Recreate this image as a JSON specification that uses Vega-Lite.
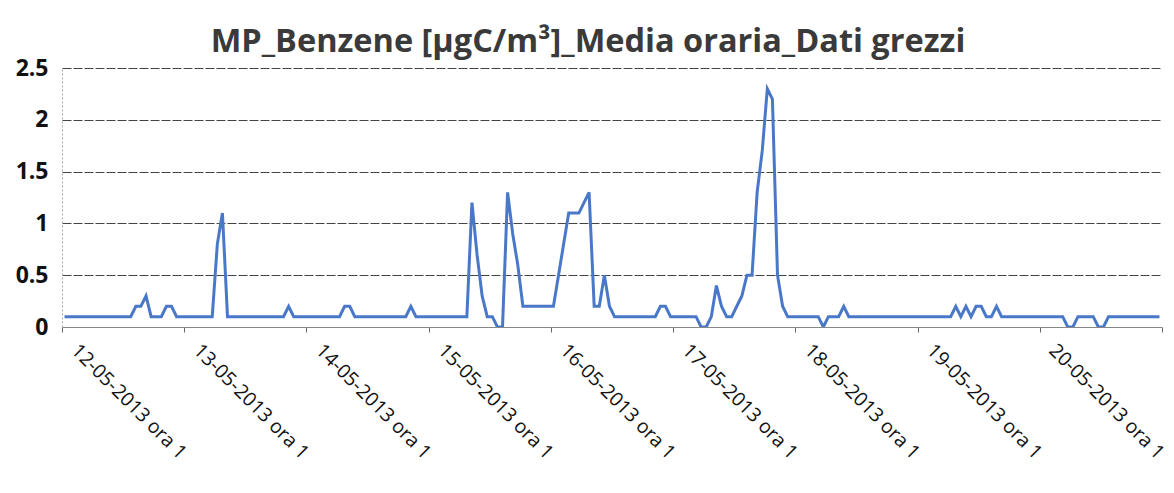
{
  "$schema": "https://vega.github.io/schema/vega-lite/v6.json",
  "width": 1100,
  "height": 259,
  "autosize": "none",
  "padding": {"left": 62, "top": 68, "right": 12, "bottom": 166},
  "background": "white",
  "title": {
    "text": "MP_Benzene [µgC/m³]_Media oraria_Dati grezzi",
    "font": "Open Sans",
    "fontSize": 32.5,
    "fontWeight": "bold",
    "color": "#3a3a3a",
    "anchor": "middle",
    "dx": -24,
    "offset": -1
  },
  "config": {
    "view": {"stroke": null},
    "font": "Open Sans"
  },
  "data": {
    "values": [
      {"h":0,"v":0.1},{"h":1,"v":0.1},{"h":2,"v":0.1},{"h":3,"v":0.1},{"h":4,"v":0.1},{"h":5,"v":0.1},{"h":6,"v":0.1},{"h":7,"v":0.1},{"h":8,"v":0.1},{"h":9,"v":0.1},{"h":10,"v":0.1},{"h":11,"v":0.1},{"h":12,"v":0.1},{"h":13,"v":0.1},{"h":14,"v":0.2},{"h":15,"v":0.2},{"h":16,"v":0.3},{"h":17,"v":0.1},{"h":18,"v":0.1},{"h":19,"v":0.1},{"h":20,"v":0.2},{"h":21,"v":0.2},{"h":22,"v":0.1},{"h":23,"v":0.1},
      {"h":24,"v":0.1},{"h":25,"v":0.1},{"h":26,"v":0.1},{"h":27,"v":0.1},{"h":28,"v":0.1},{"h":29,"v":0.1},{"h":30,"v":0.8},{"h":31,"v":1.1},{"h":32,"v":0.1},{"h":33,"v":0.1},{"h":34,"v":0.1},{"h":35,"v":0.1},{"h":36,"v":0.1},{"h":37,"v":0.1},{"h":38,"v":0.1},{"h":39,"v":0.1},{"h":40,"v":0.1},{"h":41,"v":0.1},{"h":42,"v":0.1},{"h":43,"v":0.1},{"h":44,"v":0.2},{"h":45,"v":0.1},{"h":46,"v":0.1},{"h":47,"v":0.1},
      {"h":48,"v":0.1},{"h":49,"v":0.1},{"h":50,"v":0.1},{"h":51,"v":0.1},{"h":52,"v":0.1},{"h":53,"v":0.1},{"h":54,"v":0.1},{"h":55,"v":0.2},{"h":56,"v":0.2},{"h":57,"v":0.1},{"h":58,"v":0.1},{"h":59,"v":0.1},{"h":60,"v":0.1},{"h":61,"v":0.1},{"h":62,"v":0.1},{"h":63,"v":0.1},{"h":64,"v":0.1},{"h":65,"v":0.1},{"h":66,"v":0.1},{"h":67,"v":0.1},{"h":68,"v":0.2},{"h":69,"v":0.1},{"h":70,"v":0.1},{"h":71,"v":0.1},
      {"h":72,"v":0.1},{"h":73,"v":0.1},{"h":74,"v":0.1},{"h":75,"v":0.1},{"h":76,"v":0.1},{"h":77,"v":0.1},{"h":78,"v":0.1},{"h":79,"v":0.1},{"h":80,"v":1.2},{"h":81,"v":0.7},{"h":82,"v":0.3},{"h":83,"v":0.1},{"h":84,"v":0.1},{"h":85,"v":0.0},{"h":86,"v":0.0},{"h":87,"v":1.3},{"h":88,"v":0.9},{"h":89,"v":0.6},{"h":90,"v":0.2},{"h":91,"v":0.2},{"h":92,"v":0.2},{"h":93,"v":0.2},{"h":94,"v":0.2},{"h":95,"v":0.2},
      {"h":96,"v":0.2},{"h":97,"v":0.5},{"h":98,"v":0.8},{"h":99,"v":1.1},{"h":100,"v":1.1},{"h":101,"v":1.1},{"h":102,"v":1.2},{"h":103,"v":1.3},{"h":104,"v":0.2},{"h":105,"v":0.2},{"h":106,"v":0.5},{"h":107,"v":0.2},{"h":108,"v":0.1},{"h":109,"v":0.1},{"h":110,"v":0.1},{"h":111,"v":0.1},{"h":112,"v":0.1},{"h":113,"v":0.1},{"h":114,"v":0.1},{"h":115,"v":0.1},{"h":116,"v":0.1},{"h":117,"v":0.2},{"h":118,"v":0.2},{"h":119,"v":0.1},
      {"h":120,"v":0.1},{"h":121,"v":0.1},{"h":122,"v":0.1},{"h":123,"v":0.1},{"h":124,"v":0.1},{"h":125,"v":0.0},{"h":126,"v":0.0},{"h":127,"v":0.1},{"h":128,"v":0.4},{"h":129,"v":0.2},{"h":130,"v":0.1},{"h":131,"v":0.1},{"h":132,"v":0.2},{"h":133,"v":0.3},{"h":134,"v":0.5},{"h":135,"v":0.5},{"h":136,"v":1.3},{"h":137,"v":1.7},{"h":138,"v":2.3},{"h":139,"v":2.2},{"h":140,"v":0.5},{"h":141,"v":0.2},{"h":142,"v":0.1},{"h":143,"v":0.1},
      {"h":144,"v":0.1},{"h":145,"v":0.1},{"h":146,"v":0.1},{"h":147,"v":0.1},{"h":148,"v":0.1},{"h":149,"v":0.0},{"h":150,"v":0.1},{"h":151,"v":0.1},{"h":152,"v":0.1},{"h":153,"v":0.2},{"h":154,"v":0.1},{"h":155,"v":0.1},{"h":156,"v":0.1},{"h":157,"v":0.1},{"h":158,"v":0.1},{"h":159,"v":0.1},{"h":160,"v":0.1},{"h":161,"v":0.1},{"h":162,"v":0.1},{"h":163,"v":0.1},{"h":164,"v":0.1},{"h":165,"v":0.1},{"h":166,"v":0.1},{"h":167,"v":0.1},
      {"h":168,"v":0.1},{"h":169,"v":0.1},{"h":170,"v":0.1},{"h":171,"v":0.1},{"h":172,"v":0.1},{"h":173,"v":0.1},{"h":174,"v":0.1},{"h":175,"v":0.2},{"h":176,"v":0.1},{"h":177,"v":0.2},{"h":178,"v":0.1},{"h":179,"v":0.2},{"h":180,"v":0.2},{"h":181,"v":0.1},{"h":182,"v":0.1},{"h":183,"v":0.2},{"h":184,"v":0.1},{"h":185,"v":0.1},{"h":186,"v":0.1},{"h":187,"v":0.1},{"h":188,"v":0.1},{"h":189,"v":0.1},{"h":190,"v":0.1},{"h":191,"v":0.1},
      {"h":192,"v":0.1},{"h":193,"v":0.1},{"h":194,"v":0.1},{"h":195,"v":0.1},{"h":196,"v":0.1},{"h":197,"v":0.0},{"h":198,"v":0.0},{"h":199,"v":0.1},{"h":200,"v":0.1},{"h":201,"v":0.1},{"h":202,"v":0.1},{"h":203,"v":0.0},{"h":204,"v":0.0},{"h":205,"v":0.1},{"h":206,"v":0.1},{"h":207,"v":0.1},{"h":208,"v":0.1},{"h":209,"v":0.1},{"h":210,"v":0.1},{"h":211,"v":0.1},{"h":212,"v":0.1},{"h":213,"v":0.1},{"h":214,"v":0.1},{"h":215,"v":0.1}
    ]
  },
  "mark": {"type": "line", "color": "#4a78c8", "strokeWidth": 3, "strokeJoin": "miter", "clip": true},
  "encoding": {
    "x": {
      "field": "h",
      "type": "quantitative",
      "scale": {"domain": [-0.5, 215.5], "nice": false, "zero": false},
      "axis": {
        "title": null,
        "values": [-0.5, 23.5, 47.5, 71.5, 95.5, 119.5, 143.5, 167.5, 191.5, 215.5],
        "labelExpr": "datum.value > 215 ? '' : (12 + round((datum.value + 0.5) / 24)) + '-05-2013 ora 1'",
        "labelAngle": 45,
        "labelAlign": "left",
        "labelBaseline": "middle",
        "labelOffset": 12,
        "labelPadding": 15,
        "labelFont": "Open Sans",
        "labelFontSize": 19.5,
        "labelColor": "#111",
        "labelOverlap": false,
        "labelBound": false,
        "labelFlush": false,
        "grid": false,
        "domainColor": "#888",
        "domainWidth": 1,
        "tickColor": "#666",
        "tickSize": 5,
        "tickWidth": 1
      }
    },
    "y": {
      "field": "v",
      "type": "quantitative",
      "scale": {"domain": [0, 2.5], "nice": false},
      "axis": {
        "title": null,
        "values": [0, 0.5, 1, 1.5, 2, 2.5],
        "format": "~g",
        "labelFont": "Open Sans",
        "labelFontSize": 23,
        "labelFontWeight": "bold",
        "labelColor": "#111",
        "labelPadding": 14,
        "ticks": false,
        "domainColor": "#aaa",
        "domainDash": [2, 2],
        "grid": true,
        "gridColor": "#444",
        "gridWidth": 1,
        "gridDash": [9, 2]
      }
    }
  }
}
